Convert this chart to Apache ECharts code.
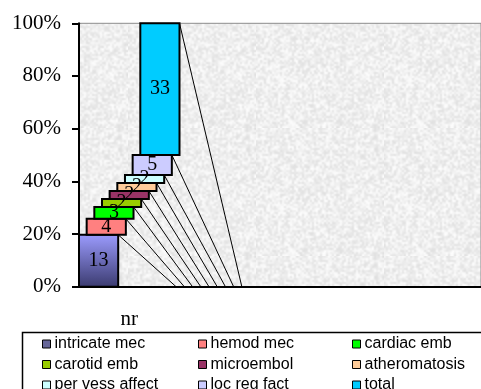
<!DOCTYPE html>
<html>
<head>
<meta charset="utf-8">
<script src="https://cdn.jsdelivr.net/npm/echarts@6/dist/echarts.min.js"></script>
<style>
  html, body { margin: 0; padding: 0; background: #ffffff; }
  #chart { width: 481px; height: 389px; }
</style>
</head>
<body>
<div id="chart"></div>
<script>
// Chart data
const categories = ['nr', '', '', ''];
const seriesNames = ['intricate mec', 'hemod mec', 'cardiac emb', 'carotid emb', 'microembol',
  'atheromatosis', 'per vess affect', 'loc reg fact', 'total'];
const seriesValues = [13, 4, 3, 2, 2, 2, 2, 5, 33];
const yTickLabels = ['0%', '20%', '40%', '60%', '80%', '100%'];

// Fill colours of the segments
const palette = ['#666699', '#ff8080', '#00ff00', '#99cc00', '#993366', '#ffcc99', '#ccffff', '#ccccff', '#00ccff'];
const firstFill = new echarts.graphic.LinearGradient(0, 0, 0, 1, [
  { offset: 0, color: '#9c9cff' },
  { offset: 1, color: '#3a3a6e' }
]);

// Cumulative percentage span of each segment in the 100% stack
const grand = seriesValues.reduce((a, b) => a + b, 0);
const spans = [];
let acc = 0;
seriesValues.forEach(v => {
  const s = acc / grand * 100;
  acc += v;
  spans.push([s, acc / grand * 100]);
});

// Granite-like plot background texture
function makeTexture() {
  const small = document.createElement('canvas');
  small.width = 64; small.height = 64;
  const sctx = small.getContext('2d');
  const img = sctx.createImageData(64, 64);
  let seed = 12345;
  const rnd = () => { seed = (seed * 1103515245 + 12345) & 0x7fffffff; return seed / 0x7fffffff; };
  for (let i = 0; i < 64 * 64; i++) {
    const g = Math.round(224 + rnd() * 30);
    img.data[i * 4] = g; img.data[i * 4 + 1] = g; img.data[i * 4 + 2] = g; img.data[i * 4 + 3] = 255;
  }
  sctx.putImageData(img, 0, 0);
  const big = document.createElement('canvas');
  big.width = 128; big.height = 128;
  const bctx = big.getContext('2d');
  bctx.imageSmoothingEnabled = true;
  bctx.drawImage(small, 0, 0, 128, 128);
  return big;
}

function renderSegment(params, api) {
  const idx = params.seriesIndex;
  const base = api.coord([0, 0]);
  const bandW = api.size([1, 0])[0];
  const bandStart = base[0] - bandW / 2;
  const w = bandW * 0.39;
  const step = (bandW - w) / (seriesValues.length - 1);
  const x0 = bandStart + idx * step;
  const yTop = api.coord([0, api.value(2)])[1];
  const yBot = api.coord([0, api.value(1)])[1];
  const unit = bandW / 102.7;
  const endX = bandStart + bandW + (-3.5 + idx * 8.4) * unit;
  return {
    type: 'group',
    children: [
      {
        type: 'line',
        shape: { x1: x0 + w, y1: yTop, x2: endX, y2: base[1] },
        style: { stroke: '#000000', lineWidth: 1 },
        z2: 1
      },
      {
        type: 'rect',
        shape: { x: x0, y: yTop, width: w, height: yBot - yTop },
        style: { fill: idx === 0 ? firstFill : palette[idx], stroke: '#000000', lineWidth: 2 },
        z2: 5
      },
      {
        type: 'text',
        x: x0 + w / 2,
        y: (yTop + yBot) / 2,
        style: {
          text: String(api.value(3)),
          fontFamily: 'Liberation Serif',
          fontSize: 20,
          fill: '#000000',
          align: 'center',
          verticalAlign: 'middle'
        },
        z2: 100
      }
    ]
  };
}

const series = seriesNames.map((name, i) => ({
  name: name,
  type: 'custom',
  renderItem: renderSegment,
  itemStyle: { color: palette[i] },
  encode: { x: 0, y: [1, 2] },
  data: [[0, spans[i][0], spans[i][1], seriesValues[i]]],
  animation: false
}));

function legendBlock(indices, left) {
  return {
    orient: 'vertical',
    left: left,
    top: 336,
    height: 80,
    itemWidth: 8,
    itemHeight: 8,
    itemGap: 4.5,
    icon: 'rect',
    selectedMode: false,
    textStyle: { fontFamily: 'Liberation Sans', fontSize: 16, lineHeight: 15, color: '#000000', padding: [0, 0, 0, -1] },
    padding: 0,
    data: indices.map(i => ({
      name: seriesNames[i],
      itemStyle: { color: palette[i], borderColor: '#000000', borderWidth: 1 }
    }))
  };
}

const chart = echarts.init(document.getElementById('chart'), null, { renderer: 'canvas' });
chart.setOption({
  animation: false,
  backgroundColor: '#ffffff',
  grid: {
    left: 79, top: 23.3, right: -8.8, bottom: 102.3,
    show: true,
    backgroundColor: { image: makeTexture(), repeat: 'repeat' },
    borderColor: '#8c8c8c',
    borderWidth: 1
  },
  legend: [legendBlock([0, 3, 6], 42), legendBlock([1, 4, 7], 198), legendBlock([2, 5, 8], 352)],
  xAxis: {
    type: 'category',
    data: categories,
    boundaryGap: true,
    axisLine: { lineStyle: { color: '#000000', width: 2 } },
    axisTick: { length: 6, lineStyle: { color: '#000000', width: 2 } },
    axisLabel: { margin: 22, fontFamily: 'Liberation Serif', fontSize: 21, color: '#000000' },
    splitLine: { show: false }
  },
  yAxis: {
    type: 'value',
    min: 0, max: 100, interval: 20,
    axisLine: { show: true, lineStyle: { color: '#000000', width: 2 } },
    axisTick: { show: true, length: 7, lineStyle: { color: '#000000', width: 2 } },
    axisLabel: {
      margin: 18, fontFamily: 'Liberation Serif', fontSize: 21, color: '#000000',
      formatter: (v) => yTickLabels[Math.round(v / 20)]
    },
    splitLine: { show: false }
  },
  graphic: [{
    type: 'rect',
    shape: { x: 22.5, y: 332.5, width: 500, height: 100 },
    style: { fill: 'none', stroke: '#000000', lineWidth: 1.5 },
    silent: true
  }],
  series: series
});
</script>
</body>
</html>
